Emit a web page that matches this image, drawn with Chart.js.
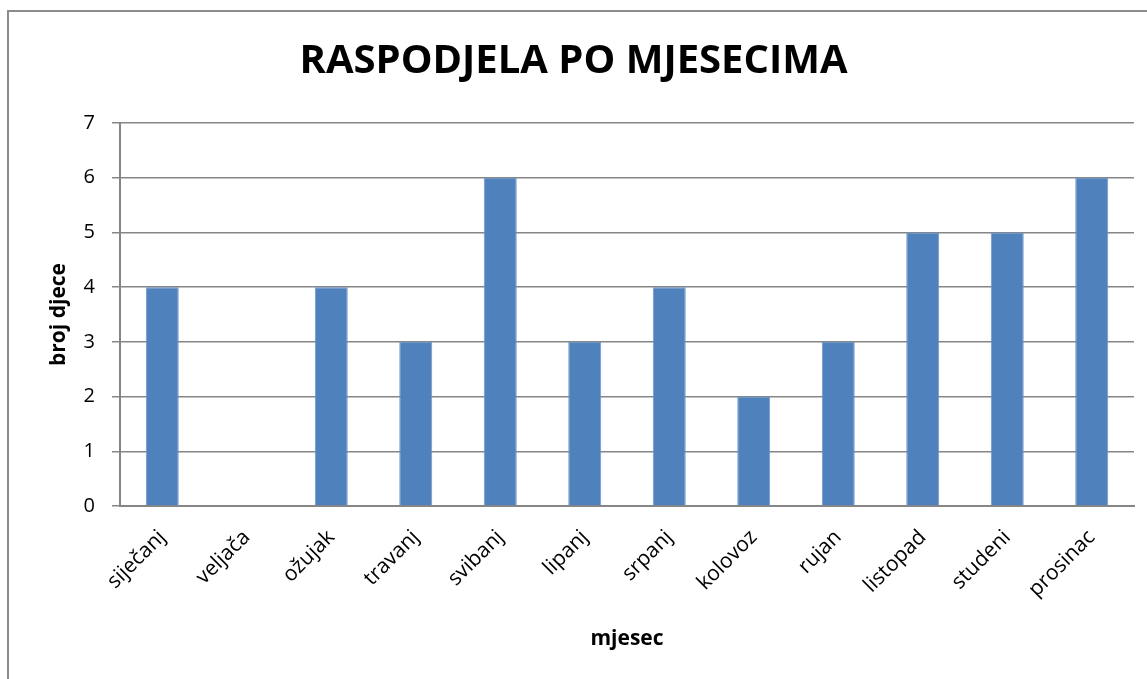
<!DOCTYPE html>
<html>
<head>
<meta charset="utf-8">
<script src="https://cdn.jsdelivr.net/npm/chart.js@4.4.1/dist/chart.umd.min.js"></script>
<style>
    html, body { margin: 0; padding: 0; background: #fff; overflow: hidden; }
    #frame {
        position: absolute; left: 7px; top: 10px; width: 1200px; height: 700px;
        border-left: 2px solid #8c8c8c; border-top: 2px solid #8c8c8c;
    }
    #wrap { position: absolute; left: 0; top: 0; width: 1147px; height: 679px; }
</style>
</head>
<body>
<div id="frame"></div>
<div id="wrap"><canvas id="chart"></canvas></div>
<script>
// 월별 아이 수
const months = ["siječanj", "veljača", "ožujak", "travanj", "svibanj", "lipanj",
    "srpanj", "kolovoz", "rujan", "listopad", "studeni", "prosinac"];
const counts = [4, 0, 4, 3, 6, 3, 4, 2, 3, 5, 5, 6];
const yTicks = [0, 1, 2, 3, 4, 5, 6, 7];

const FONT = "'Open Sans', 'Liberation Sans', sans-serif";
const GRID = "#868686";

new Chart(document.getElementById("chart").getContext("2d"), {
    type: "bar",
    data: {
        labels: months,
        datasets: [{
            data: counts,
            backgroundColor: "#4f81bd",
            borderColor: "#6f97c8",
            borderWidth: 1,
            barPercentage: 0.55,
            categoryPercentage: 0.71,
        }],
    },
    options: {
        responsive: true,
        maintainAspectRatio: false,
        animation: false,
        // 좌우 여백을 같게 해서 제목이 가운데 오도록
        layout: { padding: { left: 13, right: 13, top: 0, bottom: 0 } },
        scales: {
            x: {
                grid: { display: false },
                border: { display: true, color: GRID, width: 2 },
                ticks: {
                    color: "#000",
                    font: { family: FONT, size: 21 },
                    minRotation: 45,
                    maxRotation: 45,
                    padding: 11,
                },
                title: {
                    display: true,
                    text: "mjesec",
                    color: "#000",
                    font: { family: FONT, size: 21, weight: "bold" },
                    padding: { top: 0, bottom: 27 },
                },
                afterFit: (s) => { s.height = 173; },
            },
            y: {
                min: 0,
                max: 7,
                afterBuildTicks: (s) => { s.ticks = yTicks.map((v) => ({ value: v })); },
                grid: { color: GRID, lineWidth: 1.5, tickLength: 8 },
                border: { display: true, color: GRID, width: 2 },
                ticks: {
                    color: "#000",
                    font: { family: FONT, size: 20 },
                    padding: 17,
                },
                title: {
                    display: true,
                    text: "broj djece",
                    color: "#000",
                    font: { family: FONT, size: 21, weight: "bold" },
                    padding: { top: 33, bottom: 0 },
                },
                afterFit: (s) => { s.width = 107; },
            },
        },
        plugins: {
            legend: { display: false },
            tooltip: { enabled: false },
            title: {
                display: true,
                text: "RASPODJELA PO MJESECIMA",
                color: "#000",
                font: { family: FONT, size: 40, weight: "bold", lineHeight: 1.2 },
                padding: { top: 38, bottom: 37 },
            },
        },
    },
});
</script>
</body>
</html>
